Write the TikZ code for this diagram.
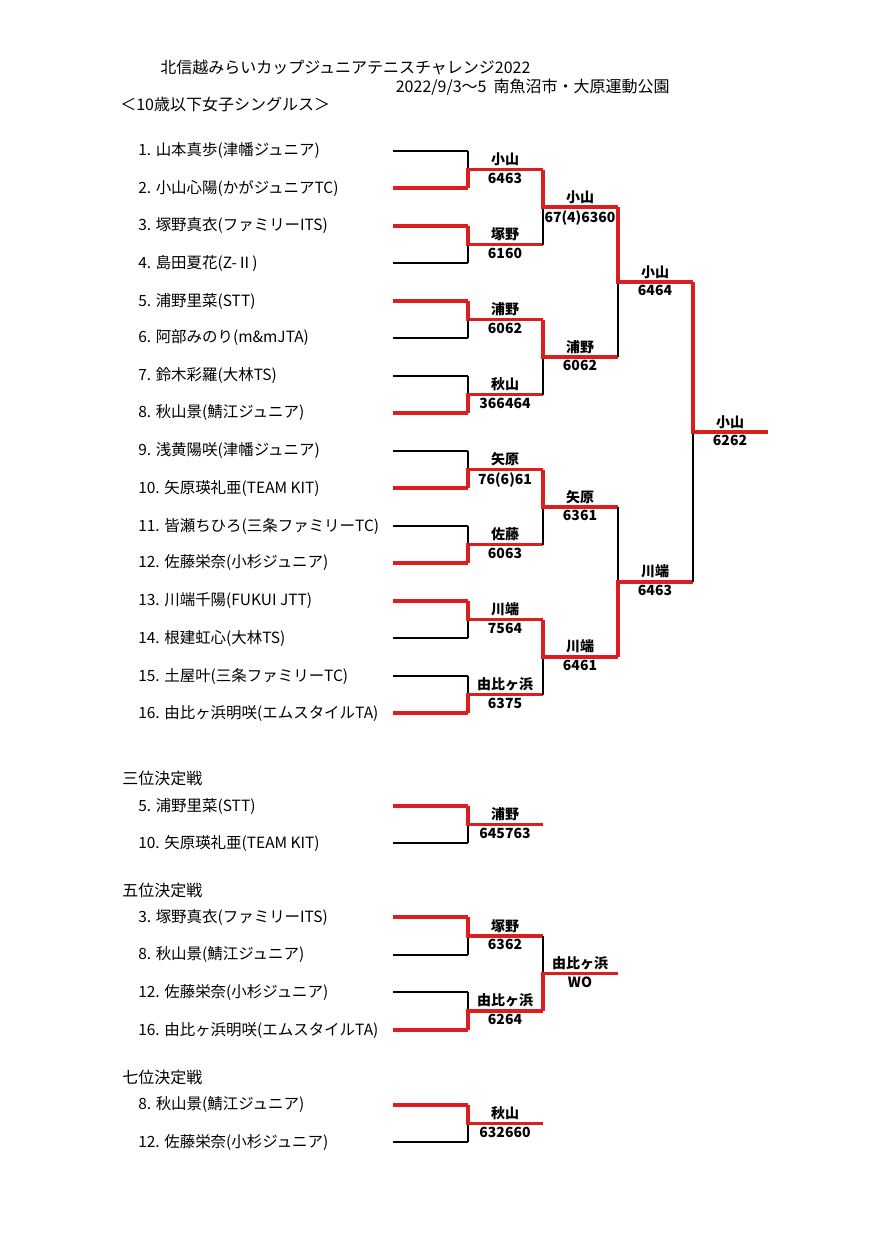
\documentclass[tikz,border=0pt]{standalone}
\usepackage{fontspec}
\setmainfont{Noto Sans CJK JP}
\begin{document}
\begin{tikzpicture}[x=0.75pt,y=-0.75pt,
  blk/.style={black,line width=0.8pt},
  rd/.style={draw={rgb,255:red,220;green,30;blue,30},line width=2.4pt},
  ptxt/.style={anchor=west,font=\fontsize{11.6}{13}\selectfont,inner sep=0pt},
  lbl/.style={font=\fontsize{10.5}{11}\selectfont\bfseries,inner sep=2.5pt},
  hdr/.style={anchor=west,font=\fontsize{12}{13}\selectfont,inner sep=0pt}]
\useasboundingbox (0,0) rectangle (890,1258);
\newcommand\bmatch[6]{%
  \pgfmathsetmacro\ym{(#2+#3)/2}%
  \draw[blk] (#1,#2)--(#1,#3);
  \draw[rd] (#1,#4)--(#1,\ym)--(#1+75,\ym);
  \node[lbl,above] at (#1+37,\ym) {#5};
  \node[lbl,below] at (#1+37,\ym) {#6};}
\newcommand\plr[3]{% y, text, red?
  \node[ptxt] at (138,#1) {#2};
  \ifnum#3=1 \draw[rd] (393,#1)--(468,#1); \else \draw[blk] (393,#1)--(468,#1); \fi}
\node[hdr] (t1) at (160,67) {北信越みらいカップジュニアテニスチャレンジ2022};
\node[hdr,anchor=east] (t2) at (670,87) {2022/9/3～5\ \ 南魚沼市・大原運動公園};
\node[hdr] (t3) at (120,104) {＜10歳以下女子シングルス＞};
\plr{151}{1. 山本真歩(津幡ジュニア)}{0}
\plr{188}{2. 小山心陽(かがジュニアTC)}{1}
\plr{226}{3. 塚野真衣(ファミリーITS)}{1}
\plr{263}{4. 島田夏花(Z-Ⅱ)}{0}
\plr{301}{5. 浦野里菜(STT)}{1}
\plr{338}{6. 阿部みのり(m\&mJTA)}{0}
\plr{376}{7. 鈴木彩羅(大林TS)}{0}
\plr{413}{8. 秋山景(鯖江ジュニア)}{1}
\plr{451}{9. 浅黄陽咲(津幡ジュニア)}{0}
\plr{488}{10. 矢原瑛礼亜(TEAM KIT)}{1}
\plr{526}{11. 皆瀬ちひろ(三条ファミリーTC)}{0}
\plr{563}{12. 佐藤栄奈(小杉ジュニア)}{1}
\plr{601}{13. 川端千陽(FUKUI JTT)}{1}
\plr{638}{14. 根建虹心(大林TS)}{0}
\plr{676}{15. 土屋叶(三条ファミリーTC)}{0}
\plr{713}{16. 由比ヶ浜明咲(エムスタイルTA)}{1}
\bmatch{468}{151}{188}{188}{小山}{6463}
\bmatch{468}{226}{263}{226}{塚野}{6160}
\bmatch{468}{301}{338}{301}{浦野}{6062}
\bmatch{468}{376}{413}{413}{秋山}{366464}
\bmatch{468}{451}{488}{488}{矢原}{76(6)61}
\bmatch{468}{526}{563}{563}{佐藤}{6063}
\bmatch{468}{601}{638}{601}{川端}{7564}
\bmatch{468}{676}{713}{713}{由比ヶ浜}{6375}
\bmatch{543}{169.5}{244.5}{169.5}{小山}{67(4)6360}
\bmatch{543}{319.5}{394.5}{319.5}{浦野}{6062}
\bmatch{543}{469.5}{544.5}{469.5}{矢原}{6361}
\bmatch{543}{619.5}{694.5}{619.5}{川端}{6461}
\bmatch{618}{207}{357}{207}{小山}{6464}
\bmatch{618}{507}{657}{657}{川端}{6463}
\bmatch{693}{282}{582}{282}{小山}{6262}
% third place
\node[hdr] (h3) at (122,778) {三位決定戦};
\plr{806}{5. 浦野里菜(STT)}{1}
\plr{843}{10. 矢原瑛礼亜(TEAM KIT)}{0}
\bmatch{468}{806}{843}{806}{浦野}{645763}
% fifth
\node[hdr] (h5) at (122,890) {五位決定戦};
\plr{917}{3. 塚野真衣(ファミリーITS)}{1}
\plr{955}{8. 秋山景(鯖江ジュニア)}{0}
\plr{992}{12. 佐藤栄奈(小杉ジュニア)}{0}
\plr{1030}{16. 由比ヶ浜明咲(エムスタイルTA)}{1}
\bmatch{468}{917}{955}{917}{塚野}{6362}
\bmatch{468}{992}{1030}{1030}{由比ヶ浜}{6264}
\bmatch{543}{936}{1011}{1011}{由比ヶ浜}{WO}
% seventh
\node[hdr] (h7) at (122,1077) {七位決定戦};
\plr{1105}{8. 秋山景(鯖江ジュニア)}{1}
\plr{1142}{12. 佐藤栄奈(小杉ジュニア)}{0}
\bmatch{468}{1105}{1142}{1105}{秋山}{632660}
\end{tikzpicture}
\end{document}
